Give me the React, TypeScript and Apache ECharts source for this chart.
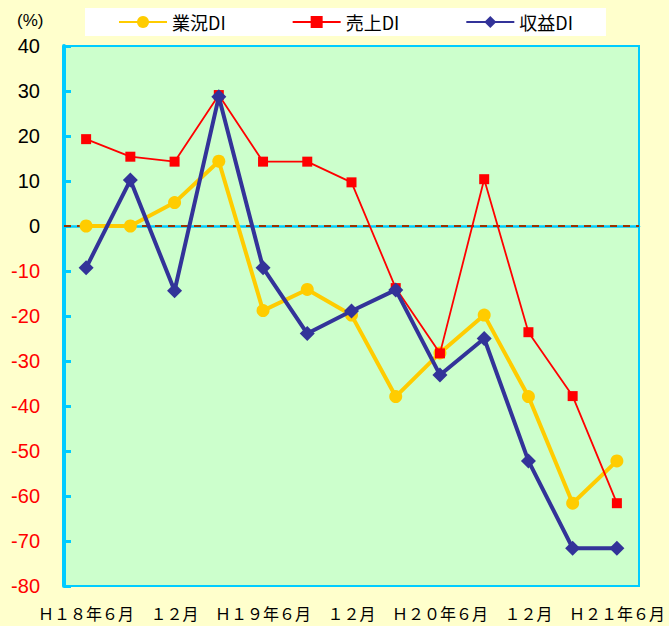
import React, { useEffect, useRef } from "react";
import * as echarts from "echarts";

const categories = [
  "Ｈ１８年６月", "９月", "１２月", "３月",
  "Ｈ１９年６月", "９月", "１２月", "３月",
  "Ｈ２０年６月", "９月", "１２月", "３月",
  "Ｈ２１年６月",
];
const gyokyoDI = [0, 0, 5.2, 14.4, -18.8, -14.1, -19.8, -37.9, -28.2, -19.8, -37.9, -61.6, -52.2];
const uriageDI = [19.3, 15.4, 14.3, 29.1, 14.3, 14.3, 9.7, -13.8, -28.3, 10.4, -23.6, -37.8, -61.6];
const shuekiDI = [-9.3, 10.2, -14.4, 28.7, -9.3, -23.9, -18.9, -14.2, -33.1, -25, -52.2, -71.6, -71.6];
const seriesNames = ["業況DI", "売上DI", "収益DI"];
const yMin = -80;
const yMax = 40;
const yStep = 10;

const CYAN = "#00CCFF";

export default function App() {
  const ref = useRef<HTMLDivElement>(null);
  useEffect(() => {
    if (!ref.current) return;
    const chart = echarts.init(ref.current, null, { renderer: "svg" });
    chart.setOption({
      animation: false,
      backgroundColor: "#FFFFCC",
      textStyle: { fontFamily: "Liberation Sans" },
      legend: {
        left: 85,
        top: 8,
        padding: [5, 33, 5, 33],
        itemGap: 66,
        itemWidth: 48,
        itemHeight: 15,
        backgroundColor: "#FFFFFF",
        textStyle: { fontSize: 18, color: "#000000", fontFamily: "Noto Sans CJK JP" },
        data: seriesNames,
      },
      graphic: [
        {
          type: "text",
          left: 17,
          top: 12,
          style: { text: "(%)", fontSize: 17, fill: "#000000", fontFamily: "Liberation Sans" },
        },
      ],
      grid: {
        left: 64,
        right: 30,
        top: 46,
        bottom: 40,
        show: true,
        backgroundColor: "#CCFFCC",
        borderColor: CYAN,
        borderWidth: 2,
      },
      xAxis: {
        type: "category",
        data: categories,
        boundaryGap: true,
        axisLine: { show: true, lineStyle: { color: CYAN, width: 2.5 } },
        axisTick: { show: false },
        splitLine: { show: false },
        axisLabel: {
          interval: 1,
          margin: 19,
          fontSize: 16,
          color: "#000000",
          fontFamily: "Noto Sans CJK JP",
        },
      },
      yAxis: {
        type: "value",
        min: yMin,
        max: yMax,
        interval: yStep,
        axisLine: { show: true, lineStyle: { color: CYAN, width: 4 } },
        axisTick: { show: true, inside: true, length: 7, lineStyle: { color: CYAN, width: 3 } },
        splitLine: { show: false },
        axisLabel: {
          margin: 24,
          fontSize: 20,
          fontFamily: "Liberation Sans",
          color: (v: any) => (Number(v) < 0 ? "#FF0000" : "#000000"),
        },
      },
      series: [
        {
          name: seriesNames[0],
          type: "line",
          data: gyokyoDI,
          symbol: "circle",
          symbolSize: 13,
          itemStyle: { color: "#FFCC00" },
          lineStyle: { color: "#FFCC00", width: 4 },
          z: 2,
          markLine: {
            silent: true,
            symbol: "none",
            label: { show: false },
            lineStyle: { color: "#993300", width: 2, type: [7, 6] },
            data: [{ yAxis: 0 }],
            z: 1,
          },
        },
        {
          name: seriesNames[1],
          type: "line",
          data: uriageDI,
          symbol: "rect",
          symbolSize: 10,
          itemStyle: { color: "#FF0000" },
          lineStyle: { color: "#FF0000", width: 1.8 },
          z: 3,
        },
        {
          name: seriesNames[2],
          type: "line",
          data: shuekiDI,
          symbol: "diamond",
          symbolSize: 15,
          itemStyle: { color: "#333399" },
          lineStyle: { color: "#333399", width: 4 },
          z: 4,
        },
      ],
    });
    return () => chart.dispose();
  }, []);
  return (
    <div
      ref={ref}
      style={{ position: "absolute", left: 0, top: 0, width: 669, height: 626 }}
    />
  );
}
